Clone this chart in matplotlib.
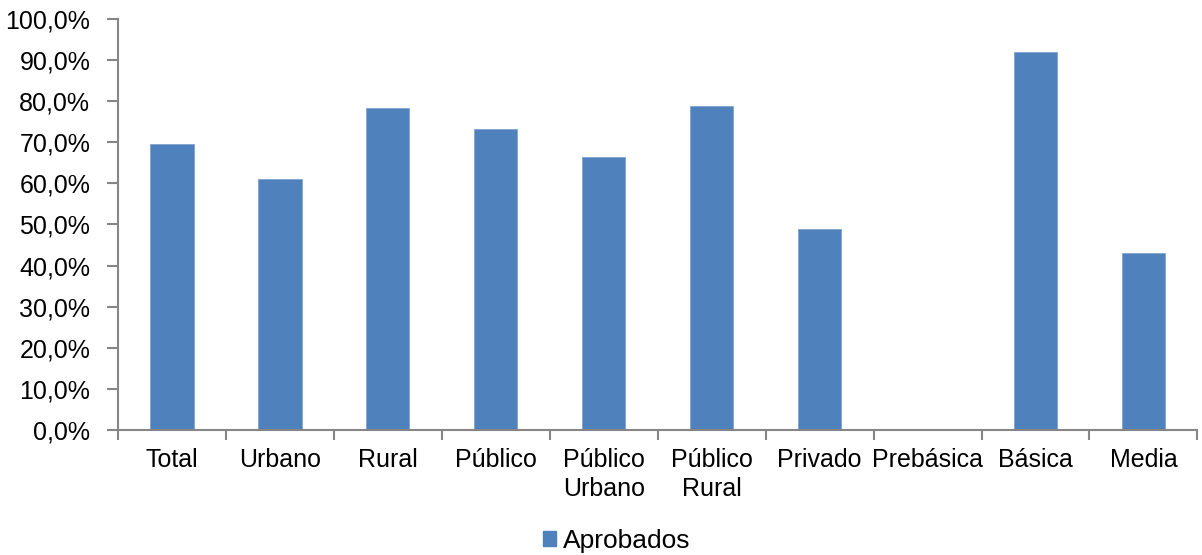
import matplotlib
matplotlib.use("Agg")
import matplotlib.pyplot as plt
import numpy as np
from matplotlib.ticker import FuncFormatter, FixedLocator
from matplotlib.patches import Patch

categories = ["Total", "Urbano", "Rural", "Público", "Público\nUrbano",
              "Público\nRural", "Privado", "Prebásica", "Básica", "Media"]
aprobados = [69.5, 61.0, 78.3, 73.3, 66.4, 78.9, 49.0, 0.0, 92.0, 43.0]
series_name = "Aprobados"

plt.rcParams['font.family'] = ['Liberation Sans', 'DejaVu Sans']
color = "#4F81BD"
axis_color = "#868686"
fs = 18

fig = plt.figure(figsize=(12.02, 5.55), dpi=100)
ax = fig.add_axes([0.0982, 0.225, 0.898, 0.741])

x = np.arange(len(categories))
ax.bar(x, aprobados, width=0.4, color=color, edgecolor="#7FA3D1", linewidth=0.6)

ax.set_xlim(-0.5, len(categories) - 0.5)
ax.set_ylim(0, 100)
ax.set_yticks(np.arange(0, 101, 10))
ax.yaxis.set_major_formatter(FuncFormatter(lambda v, p: f"{v:.1f}%".replace(".", ",")))

ax.xaxis.set_major_locator(FixedLocator(np.arange(-0.5, len(categories), 1.0)))
ax.xaxis.set_major_formatter(FuncFormatter(lambda v, p: ""))
ax.xaxis.set_minor_locator(FixedLocator(x))
ax.set_xticklabels(categories, minor=True, linespacing=1.25)
ax.tick_params(axis='x', which='minor', length=0, pad=13, labelsize=fs)
ax.tick_params(axis='x', which='major', length=7, width=1.5, color=axis_color, direction='out')
ax.tick_params(axis='y', length=8, width=1.5, color=axis_color, pad=12, labelsize=fs, direction='out')

for s in ["top", "right"]:
    ax.spines[s].set_visible(False)
for s in ["left", "bottom"]:
    ax.spines[s].set_color(axis_color)
    ax.spines[s].set_linewidth(1.5)

handle = Patch(facecolor=color, edgecolor=color)
fig.legend([handle], [series_name], loc="center", bbox_to_anchor=(0.513, 0.026),
           frameon=False, fontsize=19, handlelength=0.5, handleheight=0.5,
           handletextpad=0.25, borderpad=0)

fig.savefig("out.png", dpi=100)
